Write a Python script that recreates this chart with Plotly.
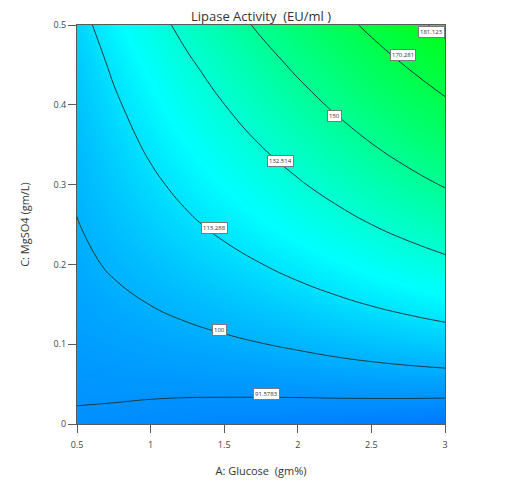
import plotly.graph_objects as go

# A: Glucose (gm%) grid and C: MgSO4 (gm/L) grid
glucose = [0.5, 0.75, 1.0, 1.25, 1.5, 1.75, 2.0, 2.25, 2.5, 2.75, 3.0]
mgso4 = [0.0, 0.05, 0.10, 0.15, 0.20, 0.25, 0.30, 0.35, 0.40, 0.45, 0.50]

# Lipase activity (EU/ml), rows follow mgso4, columns follow glucose
activity = [
    [90.8, 90.3, 89.6, 89.0, 88.3, 87.7, 87.2, 86.6, 86.0, 85.3, 84.5],
    [92.5, 92.7, 92.8, 92.9, 93.2, 93.5, 93.8, 94.3, 94.7, 95.1, 95.4],
    [94.4, 95.4, 96.4, 97.4, 98.5, 99.8, 101.1, 102.6, 104.1, 105.5, 106.9],
    [96.3, 98.2, 100.1, 102.1, 104.2, 106.4, 108.8, 111.2, 113.7, 116.1, 118.5],
    [98.1, 101.0, 103.9, 106.9, 110.0, 113.1, 116.4, 119.8, 123.2, 126.6, 129.8],
    [99.7, 103.7, 107.7, 111.7, 115.7, 119.8, 124.0, 128.2, 132.5, 136.6, 140.7],
    [101.2, 106.3, 111.3, 116.3, 121.3, 126.3, 131.3, 136.4, 141.3, 146.2, 150.8],
    [102.7, 108.9, 115.0, 120.9, 126.8, 132.7, 138.4, 144.1, 149.7, 155.1, 160.2],
    [104.4, 111.7, 118.8, 125.7, 132.4, 139.0, 145.4, 151.6, 157.6, 163.4, 168.7],
    [106.4, 114.9, 122.9, 130.7, 138.1, 145.3, 152.2, 158.9, 165.2, 171.0, 176.4],
    [109.3, 118.8, 127.7, 136.2, 144.3, 152.0, 159.3, 166.1, 172.5, 178.3, 183.5],
]

contour_levels = [91.5783, 100, 113.288, 132.514, 150, 170.281, 181.123]

# where each level's boxed label sits (glucose, mgso4)
label_anchor_glucose = [1.786, 1.469, 1.435, 1.884, 2.25, 2.715, 2.905]
label_anchor_mgso4 = [0.0376, 0.118, 0.245, 0.330, 0.386, 0.462, 0.491]

x_ticks = [0.5, 1, 1.5, 2, 2.5, 3]
x_tick_text = ["0.5", "1", "1.5", "2", "2.5", "3"]
y_ticks = [0, 0.1, 0.2, 0.3, 0.4, 0.5]
y_tick_text = ["0", "0.1", "0.2", "0.3", "0.4", "0.5"]

W, H = 490, 470  # page adds an 8px body margin around the figure

fig = go.Figure()

# smooth colour fill (blue -> cyan -> green)
fig.add_trace(go.Heatmap(
    x=glucose, y=mgso4, z=activity,
    zsmooth="best",
    zmin=52, zmax=190,
    colorscale=[[0.0, "rgb(0,0,255)"], [0.5, "rgb(0,255,255)"], [1.0, "rgb(0,255,0)"]],
    showscale=False, hoverinfo="skip",
))

line_col = "#1d3a44"
for lvl in contour_levels:
    fig.add_trace(go.Contour(
        x=glucose, y=mgso4, z=activity,
        autocontour=False,
        contours=dict(start=lvl, end=lvl, size=1, coloring="none", showlabels=False),
        line=dict(color=line_col, width=1, smoothing=1.3),
        showscale=False, hoverinfo="skip",
    ))

for lvl, gx, my in zip(contour_levels, label_anchor_glucose, label_anchor_mgso4):
    fig.add_annotation(
        x=gx, y=my, xref="x", yref="y",
        text=f"{lvl:g}", showarrow=False,
        font=dict(size=6, color="#333333", family="Open Sans"),
        bgcolor="white", bordercolor="#7a7a7a", borderwidth=1, borderpad=1,
    )

axis_common = dict(
    showgrid=False, zeroline=False, automargin=False,
    showline=True, linecolor="#5a5a5a", linewidth=1, mirror=True,
    ticks="outside", ticklen=8, tickcolor="#5a5a5a", tickwidth=1,
    tickfont=dict(size=9, color="#444444", family="Open Sans"),
)

fig.update_layout(
    width=W, height=H, autosize=False,
    margin=dict(l=69, r=W - 69 - 368, t=17, b=H - 17 - 399),
    paper_bgcolor="white", plot_bgcolor="white",
    title=dict(
        text="Lipase Activity  (EU/ml )",
        x=0.5, xref="paper", xanchor="center",
        y=1 - 8.5 / H, yref="container", yanchor="middle",
        font=dict(size=13, color="#333333", family="Open Sans"),
    ),
    xaxis=dict(
        range=[0.5, 3], tickvals=x_ticks, ticktext=x_tick_text,
        ticklabelstandoff=4,
        title=dict(text="A: Glucose  (gm%)", standoff=22,
                   font=dict(size=11, color="#333333", family="Open Sans")),
        **axis_common,
    ),
    yaxis=dict(
        range=[0, 0.5], tickvals=y_ticks, ticktext=y_tick_text,
        title=dict(text="C: MgSO4 (gm/L)", standoff=21,
                   font=dict(size=11, color="#333333", family="Open Sans")),
        **axis_common,
    ),
    showlegend=False,
)

fig.write_html("out.html")
